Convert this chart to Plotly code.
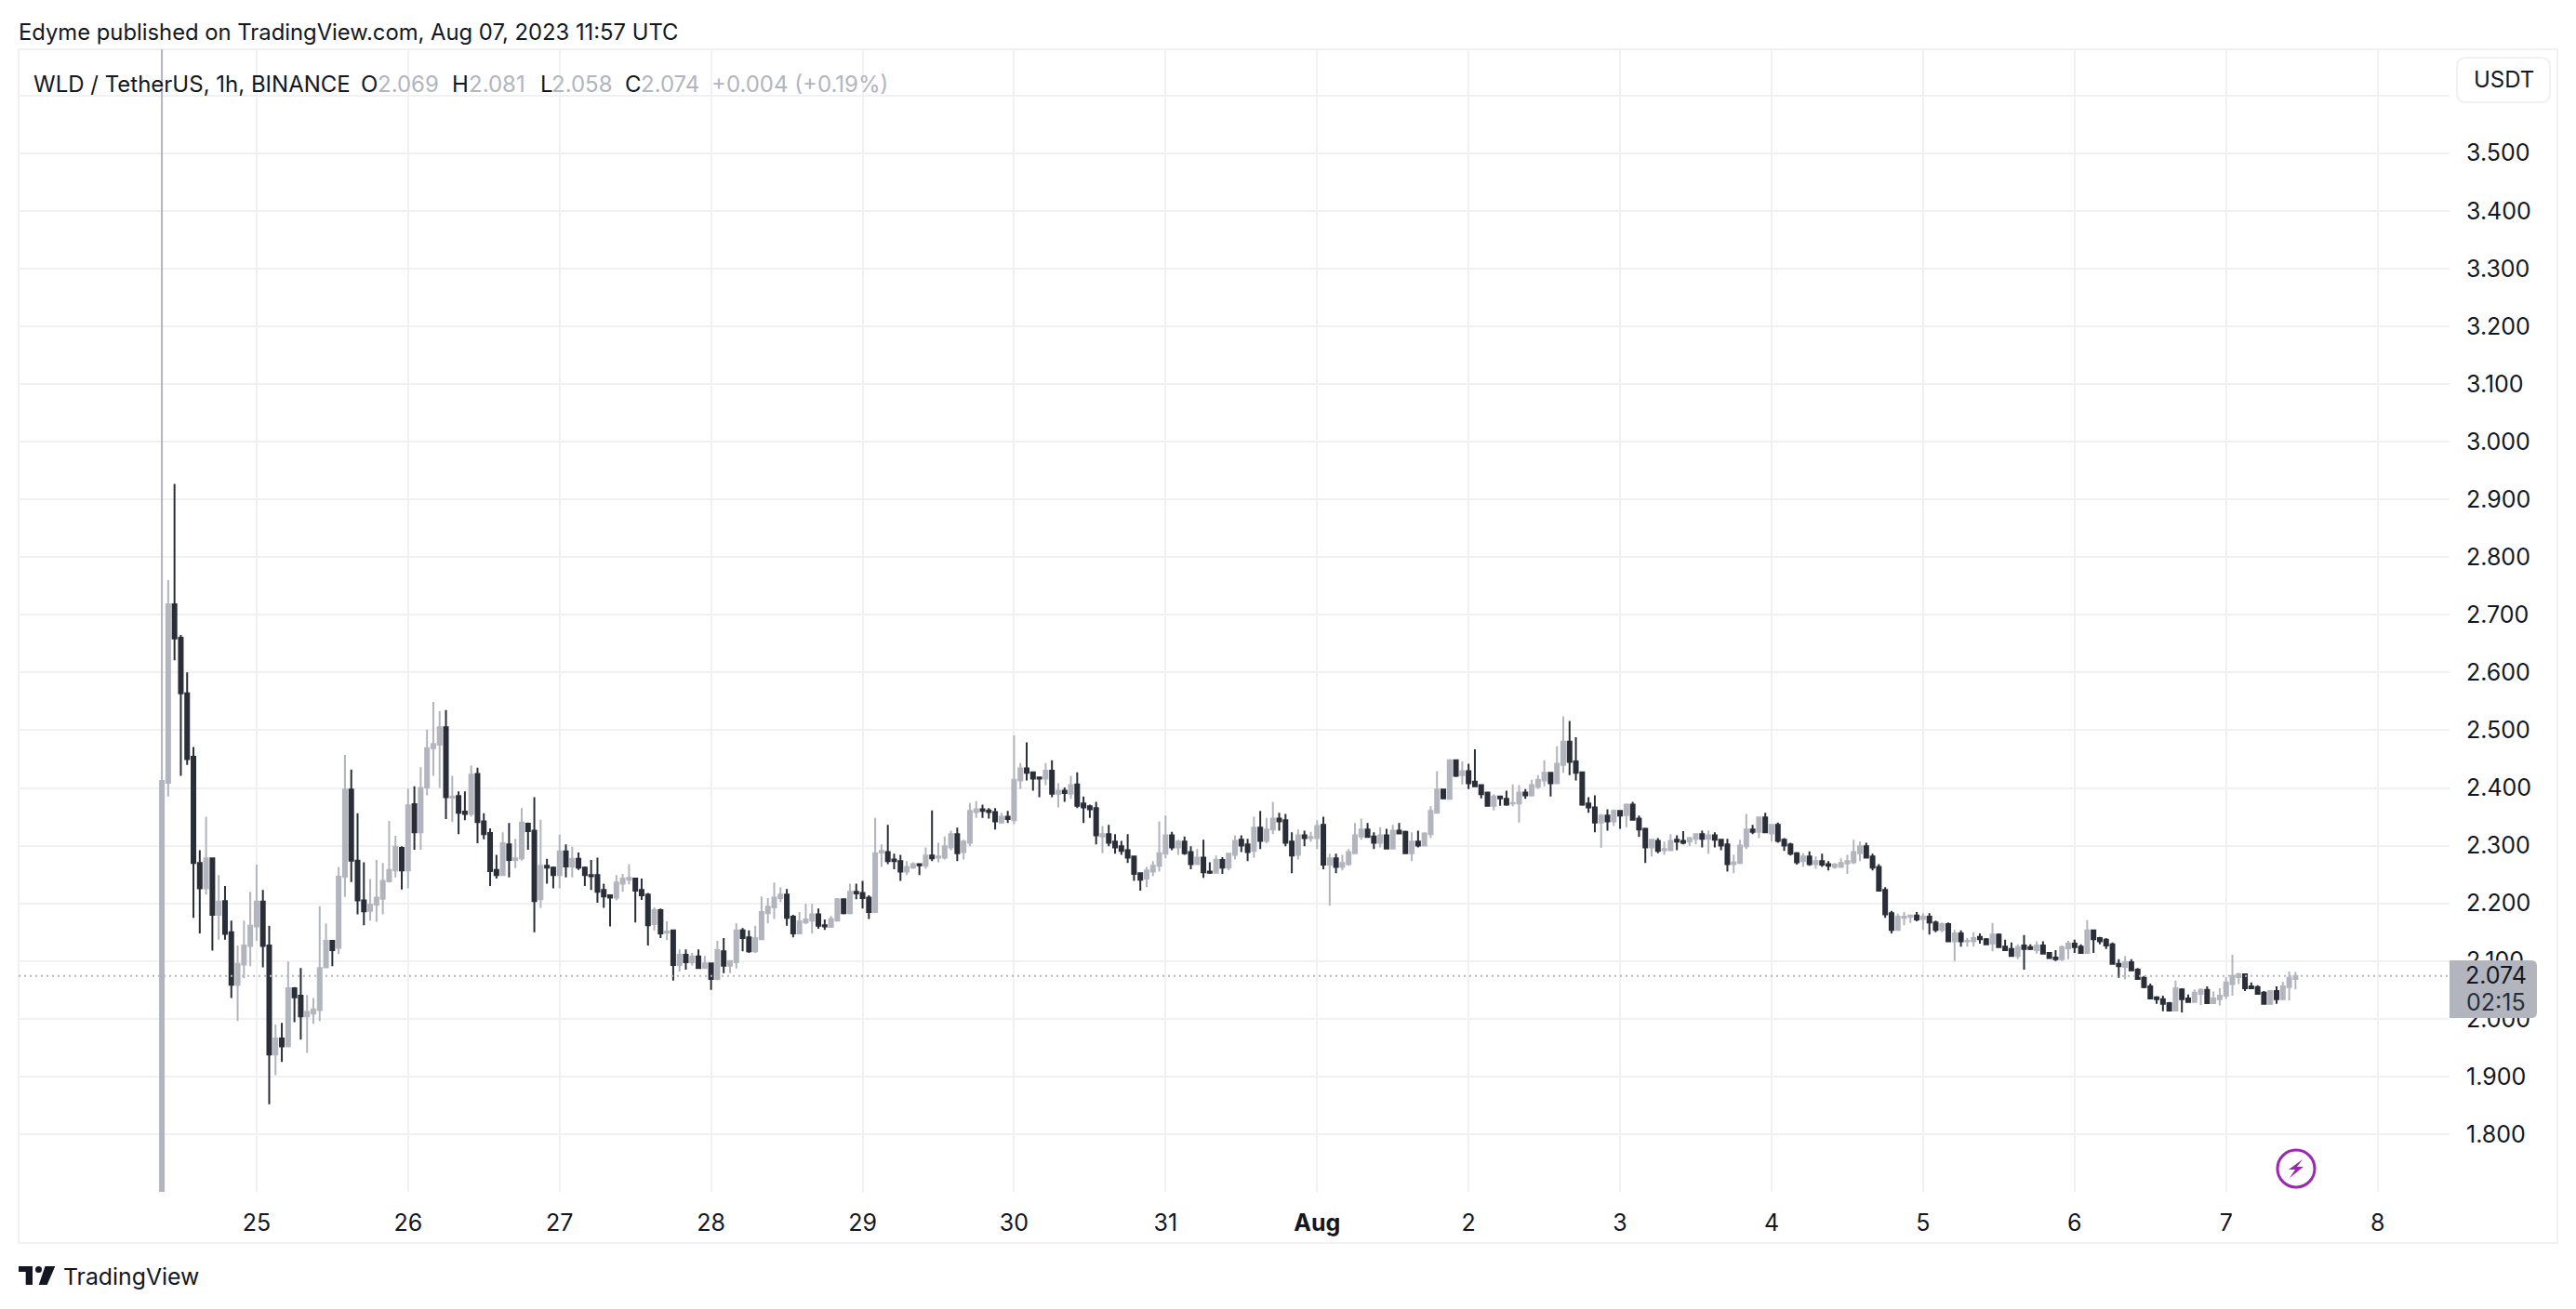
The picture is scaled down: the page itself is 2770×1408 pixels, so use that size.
import pandas as pd
import plotly.graph_objects as go

# WLD/USDT 1h candles, 2023-07-24 09:00 to 2023-08-07 11:00 UTC
times = pd.date_range("2023-07-24 09:00", periods=339, freq="h")

opens = [
    1.600, 2.409, 2.718, 2.660, 2.564, 2.454, 2.270, 2.226, 2.278, 2.180,
    2.204, 2.150, 2.059, 2.094, 2.126, 2.160, 2.203, 2.127, 1.938, 1.966,
    1.952, 2.053, 2.040, 2.004, 2.009, 2.015, 2.089, 2.135, 2.123, 2.246,
    2.397, 2.274, 2.205, 2.187, 2.198, 2.208, 2.238, 2.257, 2.296, 2.257,
    2.372, 2.323, 2.401, 2.469, 2.475, 2.505, 2.383, 2.386, 2.359, 2.355,
    2.424, 2.342, 2.322, 2.258, 2.249, 2.302, 2.275, 2.278, 2.338, 2.326,
    2.207, 2.265, 2.262, 2.249, 2.290, 2.264, 2.277, 2.262, 2.249, 2.249,
    2.223, 2.214, 2.210, 2.234, 2.241, 2.243, 2.223, 2.215, 2.164, 2.188,
    2.149, 2.153, 2.093, 2.111, 2.098, 2.108, 2.088, 2.096, 2.069, 2.117,
    2.092, 2.098, 2.153, 2.141, 2.117, 2.138, 2.183, 2.193, 2.209, 2.215,
    2.177, 2.148, 2.167, 2.170, 2.181, 2.162, 2.159, 2.170, 2.207, 2.183,
    2.220, 2.218, 2.210, 2.185, 2.288, 2.289, 2.276, 2.273, 2.255, 2.262,
    2.268, 2.265, 2.283, 2.279, 2.279, 2.297, 2.320, 2.289, 2.305, 2.358,
    2.363, 2.361, 2.358, 2.340, 2.350, 2.344, 2.413, 2.434, 2.427, 2.418,
    2.416, 2.430, 2.390, 2.395, 2.390, 2.406, 2.373, 2.368, 2.365, 2.316,
    2.320, 2.307, 2.299, 2.292, 2.281, 2.252, 2.243, 2.255, 2.265, 2.286,
    2.318, 2.297, 2.307, 2.289, 2.268, 2.279, 2.255, 2.253, 2.275, 2.262,
    2.284, 2.310, 2.302, 2.291, 2.331, 2.308, 2.328, 2.347, 2.344, 2.307,
    2.284, 2.318, 2.313, 2.313, 2.336, 2.267, 2.278, 2.263, 2.268, 2.287,
    2.316, 2.328, 2.316, 2.305, 2.318, 2.295, 2.326, 2.324, 2.287, 2.307,
    2.300, 2.320, 2.357, 2.397, 2.381, 2.448, 2.422, 2.429, 2.411, 2.405,
    2.392, 2.369, 2.385, 2.381, 2.373, 2.373, 2.392, 2.387, 2.402, 2.413,
    2.426, 2.408, 2.440, 2.480, 2.446, 2.427, 2.373, 2.366, 2.340, 2.352,
    2.342, 2.360, 2.353, 2.371, 2.347, 2.329, 2.297, 2.308, 2.292, 2.292,
    2.310, 2.308, 2.307, 2.312, 2.320, 2.312, 2.318, 2.310, 2.302, 2.268,
    2.270, 2.299, 2.328, 2.324, 2.349, 2.321, 2.336, 2.310, 2.302, 2.287,
    2.273, 2.281, 2.268, 2.273, 2.268, 2.263, 2.263, 2.269, 2.271, 2.287,
    2.299, 2.281, 2.263, 2.223, 2.183, 2.154, 2.175, 2.177, 2.179, 2.173,
    2.177, 2.167, 2.154, 2.164, 2.134, 2.148, 2.134, 2.134, 2.142, 2.138,
    2.130, 2.146, 2.125, 2.121, 2.109, 2.127, 2.124, 2.119, 2.127, 2.114,
    2.106, 2.103, 2.122, 2.130, 2.125, 2.114, 2.153, 2.140, 2.137, 2.129,
    2.095, 2.090, 2.098, 2.085, 2.071, 2.056, 2.037, 2.034, 2.027, 2.014,
    2.051, 2.035, 2.029, 2.043, 2.050, 2.027, 2.034, 2.040, 2.060, 2.072,
    2.077, 2.056, 2.055, 2.045, 2.026, 2.048, 2.034, 2.055, 2.069,
]
highs = [
    3.800, 2.760, 2.927, 2.665, 2.600, 2.471, 2.292, 2.350, 2.278, 2.249,
    2.230, 2.170, 2.127, 2.170, 2.220, 2.267, 2.223, 2.161, 1.990, 1.993,
    2.099, 2.055, 2.088, 2.041, 2.036, 2.195, 2.165, 2.135, 2.263, 2.457,
    2.432, 2.356, 2.271, 2.242, 2.275, 2.270, 2.343, 2.317, 2.299, 2.399,
    2.403, 2.436, 2.501, 2.549, 2.533, 2.535, 2.421, 2.394, 2.394, 2.439,
    2.435, 2.356, 2.330, 2.284, 2.323, 2.339, 2.312, 2.365, 2.340, 2.384,
    2.345, 2.277, 2.264, 2.319, 2.302, 2.298, 2.288, 2.264, 2.275, 2.279,
    2.234, 2.215, 2.249, 2.251, 2.268, 2.244, 2.243, 2.218, 2.193, 2.191,
    2.169, 2.154, 2.120, 2.120, 2.114, 2.120, 2.109, 2.096, 2.135, 2.140,
    2.101, 2.165, 2.157, 2.153, 2.161, 2.212, 2.209, 2.236, 2.228, 2.225,
    2.180, 2.185, 2.199, 2.199, 2.191, 2.172, 2.178, 2.209, 2.207, 2.234,
    2.234, 2.239, 2.214, 2.348, 2.302, 2.336, 2.286, 2.284, 2.273, 2.271,
    2.268, 2.297, 2.361, 2.305, 2.316, 2.326, 2.331, 2.310, 2.374, 2.377,
    2.371, 2.365, 2.365, 2.357, 2.360, 2.491, 2.443, 2.479, 2.427, 2.419,
    2.443, 2.448, 2.408, 2.401, 2.421, 2.427, 2.385, 2.371, 2.376, 2.334,
    2.336, 2.320, 2.308, 2.320, 2.281, 2.254, 2.263, 2.273, 2.342, 2.352,
    2.324, 2.310, 2.316, 2.299, 2.294, 2.310, 2.271, 2.283, 2.280, 2.287,
    2.318, 2.318, 2.312, 2.350, 2.360, 2.348, 2.376, 2.357, 2.355, 2.323,
    2.328, 2.326, 2.324, 2.344, 2.350, 2.286, 2.286, 2.284, 2.294, 2.339,
    2.347, 2.339, 2.323, 2.332, 2.329, 2.336, 2.339, 2.326, 2.323, 2.326,
    2.323, 2.368, 2.429, 2.398, 2.450, 2.448, 2.446, 2.442, 2.467, 2.406,
    2.393, 2.389, 2.385, 2.395, 2.406, 2.405, 2.398, 2.414, 2.422, 2.448,
    2.427, 2.472, 2.524, 2.516, 2.488, 2.427, 2.384, 2.387, 2.355, 2.363,
    2.363, 2.361, 2.373, 2.376, 2.352, 2.331, 2.310, 2.313, 2.307, 2.320,
    2.318, 2.325, 2.315, 2.320, 2.326, 2.326, 2.323, 2.310, 2.312, 2.284,
    2.310, 2.355, 2.336, 2.350, 2.357, 2.336, 2.340, 2.313, 2.305, 2.289,
    2.287, 2.290, 2.281, 2.286, 2.273, 2.270, 2.278, 2.284, 2.310, 2.307,
    2.305, 2.286, 2.268, 2.228, 2.187, 2.182, 2.185, 2.180, 2.185, 2.183,
    2.183, 2.170, 2.167, 2.167, 2.154, 2.153, 2.140, 2.150, 2.148, 2.140,
    2.166, 2.148, 2.137, 2.132, 2.129, 2.145, 2.129, 2.134, 2.134, 2.114,
    2.119, 2.127, 2.135, 2.137, 2.129, 2.171, 2.154, 2.142, 2.140, 2.132,
    2.103, 2.109, 2.103, 2.088, 2.074, 2.061, 2.039, 2.040, 2.029, 2.066,
    2.053, 2.042, 2.051, 2.053, 2.056, 2.047, 2.053, 2.072, 2.111, 2.080,
    2.077, 2.063, 2.058, 2.048, 2.048, 2.056, 2.064, 2.082, 2.081,
]
lows = [
    1.600, 2.385, 2.621, 2.421, 2.440, 2.175, 2.148, 2.215, 2.118, 2.137,
    2.137, 2.036, 1.996, 2.070, 2.091, 2.135, 2.089, 1.852, 1.902, 1.925,
    1.952, 1.994, 1.964, 1.941, 1.991, 1.996, 2.089, 2.091, 2.112, 2.211,
    2.237, 2.181, 2.162, 2.170, 2.168, 2.181, 2.236, 2.245, 2.224, 2.226,
    2.293, 2.293, 2.387, 2.421, 2.400, 2.346, 2.341, 2.320, 2.344, 2.350,
    2.304, 2.311, 2.230, 2.243, 2.249, 2.245, 2.261, 2.274, 2.293, 2.150,
    2.192, 2.234, 2.226, 2.226, 2.245, 2.245, 2.258, 2.230, 2.223, 2.201,
    2.192, 2.160, 2.205, 2.220, 2.233, 2.167, 2.206, 2.127, 2.153, 2.140,
    2.136, 2.066, 2.082, 2.085, 2.092, 2.087, 2.088, 2.050, 2.067, 2.079,
    2.079, 2.087, 2.117, 2.114, 2.114, 2.138, 2.165, 2.173, 2.202, 2.161,
    2.141, 2.148, 2.164, 2.148, 2.156, 2.154, 2.159, 2.170, 2.181, 2.181,
    2.207, 2.191, 2.173, 2.185, 2.263, 2.268, 2.259, 2.239, 2.249, 2.260,
    2.249, 2.260, 2.273, 2.271, 2.276, 2.292, 2.273, 2.276, 2.299, 2.348,
    2.348, 2.347, 2.328, 2.340, 2.339, 2.337, 2.398, 2.413, 2.395, 2.384,
    2.405, 2.384, 2.366, 2.376, 2.381, 2.365, 2.339, 2.348, 2.302, 2.287,
    2.299, 2.286, 2.284, 2.270, 2.239, 2.222, 2.228, 2.247, 2.255, 2.278,
    2.292, 2.284, 2.284, 2.259, 2.268, 2.244, 2.251, 2.252, 2.251, 2.257,
    2.276, 2.289, 2.273, 2.279, 2.294, 2.304, 2.320, 2.326, 2.299, 2.252,
    2.276, 2.299, 2.307, 2.294, 2.259, 2.196, 2.252, 2.257, 2.265, 2.287,
    2.310, 2.315, 2.294, 2.297, 2.294, 2.294, 2.320, 2.286, 2.273, 2.297,
    2.300, 2.313, 2.357, 2.381, 2.381, 2.419, 2.406, 2.398, 2.403, 2.382,
    2.369, 2.361, 2.369, 2.369, 2.368, 2.340, 2.381, 2.385, 2.398, 2.403,
    2.385, 2.408, 2.426, 2.422, 2.413, 2.369, 2.357, 2.323, 2.296, 2.326,
    2.334, 2.329, 2.332, 2.344, 2.315, 2.270, 2.281, 2.287, 2.284, 2.292,
    2.292, 2.302, 2.299, 2.302, 2.297, 2.286, 2.297, 2.292, 2.255, 2.252,
    2.268, 2.294, 2.320, 2.313, 2.323, 2.307, 2.305, 2.291, 2.283, 2.267,
    2.263, 2.265, 2.260, 2.263, 2.257, 2.260, 2.263, 2.251, 2.268, 2.273,
    2.278, 2.257, 2.222, 2.175, 2.148, 2.153, 2.162, 2.166, 2.169, 2.154,
    2.146, 2.150, 2.150, 2.146, 2.100, 2.125, 2.125, 2.125, 2.130, 2.132,
    2.117, 2.130, 2.121, 2.111, 2.103, 2.085, 2.119, 2.113, 2.114, 2.113,
    2.100, 2.100, 2.103, 2.114, 2.121, 2.113, 2.114, 2.129, 2.121, 2.127,
    2.071, 2.068, 2.090, 2.076, 2.053, 2.050, 2.026, 2.013, 2.014, 2.014,
    2.011, 2.029, 2.029, 2.024, 2.034, 2.026, 2.023, 2.034, 2.040, 2.060,
    2.048, 2.053, 2.048, 2.040, 2.024, 2.026, 2.034, 2.032, 2.051, 2.058,
]
closes = [
    2.412, 2.718, 2.659, 2.564, 2.450, 2.270, 2.226, 2.278, 2.180, 2.203,
    2.147, 2.059, 2.095, 2.127, 2.161, 2.203, 2.126, 1.938, 1.966, 1.952,
    2.053, 2.037, 2.004, 2.012, 2.016, 2.088, 2.135, 2.119, 2.246, 2.397,
    2.274, 2.205, 2.186, 2.198, 2.210, 2.239, 2.258, 2.298, 2.257, 2.370,
    2.323, 2.400, 2.469, 2.476, 2.505, 2.384, 2.385, 2.357, 2.355, 2.423,
    2.341, 2.320, 2.256, 2.249, 2.304, 2.275, 2.278, 2.340, 2.325, 2.204,
    2.265, 2.262, 2.249, 2.290, 2.264, 2.277, 2.262, 2.249, 2.247, 2.220,
    2.212, 2.210, 2.236, 2.243, 2.244, 2.222, 2.214, 2.162, 2.188, 2.148,
    2.151, 2.093, 2.111, 2.098, 2.108, 2.088, 2.096, 2.069, 2.119, 2.092,
    2.100, 2.153, 2.140, 2.117, 2.140, 2.185, 2.194, 2.210, 2.215, 2.175,
    2.148, 2.169, 2.172, 2.181, 2.161, 2.160, 2.173, 2.207, 2.183, 2.220,
    2.217, 2.209, 2.185, 2.287, 2.291, 2.273, 2.273, 2.255, 2.263, 2.268,
    2.266, 2.283, 2.278, 2.281, 2.299, 2.320, 2.287, 2.307, 2.360, 2.363,
    2.360, 2.358, 2.342, 2.350, 2.346, 2.414, 2.434, 2.426, 2.416, 2.416,
    2.430, 2.390, 2.395, 2.391, 2.405, 2.369, 2.366, 2.363, 2.318, 2.320,
    2.305, 2.297, 2.291, 2.279, 2.251, 2.241, 2.257, 2.265, 2.287, 2.318,
    2.297, 2.307, 2.287, 2.268, 2.279, 2.254, 2.253, 2.275, 2.262, 2.286,
    2.308, 2.300, 2.289, 2.331, 2.308, 2.328, 2.347, 2.342, 2.305, 2.283,
    2.318, 2.313, 2.315, 2.334, 2.267, 2.278, 2.263, 2.270, 2.289, 2.318,
    2.328, 2.315, 2.305, 2.318, 2.295, 2.326, 2.321, 2.287, 2.307, 2.300,
    2.321, 2.360, 2.397, 2.382, 2.448, 2.421, 2.429, 2.408, 2.403, 2.389,
    2.369, 2.385, 2.382, 2.371, 2.374, 2.392, 2.387, 2.405, 2.414, 2.426,
    2.408, 2.442, 2.480, 2.445, 2.426, 2.371, 2.366, 2.340, 2.352, 2.342,
    2.360, 2.352, 2.371, 2.345, 2.328, 2.297, 2.310, 2.291, 2.294, 2.308,
    2.307, 2.305, 2.313, 2.320, 2.312, 2.318, 2.310, 2.300, 2.268, 2.271,
    2.300, 2.328, 2.324, 2.349, 2.323, 2.336, 2.308, 2.300, 2.286, 2.271,
    2.281, 2.268, 2.273, 2.267, 2.265, 2.267, 2.270, 2.273, 2.289, 2.299,
    2.279, 2.262, 2.222, 2.181, 2.154, 2.177, 2.177, 2.179, 2.172, 2.177,
    2.167, 2.154, 2.164, 2.134, 2.148, 2.134, 2.135, 2.140, 2.138, 2.129,
    2.146, 2.124, 2.119, 2.109, 2.124, 2.121, 2.121, 2.127, 2.113, 2.105,
    2.103, 2.124, 2.130, 2.124, 2.114, 2.153, 2.138, 2.134, 2.127, 2.095,
    2.091, 2.098, 2.084, 2.069, 2.055, 2.035, 2.034, 2.026, 2.014, 2.053,
    2.034, 2.029, 2.045, 2.050, 2.027, 2.035, 2.040, 2.063, 2.074, 2.077,
    2.053, 2.053, 2.043, 2.026, 2.048, 2.034, 2.056, 2.071, 2.074,
]

price_ticks = [1.8, 1.9, 2.0, 2.1, 2.2, 2.3, 2.4, 2.5, 2.6, 2.7, 2.8, 2.9, 3.0, 3.1, 3.2, 3.3, 3.4, 3.5, 3.6]
price_labels = ["1.800", "1.900", "2.000", "2.100", "2.200", "2.300", "2.400", "2.500", "2.600", "2.700",
                "2.800", "2.900", "3.000", "3.100", "3.200", "3.300", "3.400", "3.500", ""]
day_ticks = pd.date_range("2023-07-25", "2023-08-08", freq="D")
day_labels = ["25", "26", "27", "28", "29", "30", "31", "<b>Aug</b>", "2", "3", "4", "5", "6", "7", "8"]

# the page body keeps its 8px margin, so the figure is smaller than the window
PAD = 8
W, H = 2770 - 2 * PAD, 1408 - 2 * PAD
UP = "#b2b5be"
DOWN = "#2a2e39"
GRID = "#f1f1f5"
INK = "#131722"
FONT = "Inter"


def px(x):
    return (x - PAD) / W


def py(y):
    return 1 - (y - PAD) / H


def poly(points):
    return "M" + " L".join(f"{px(x):.5f},{py(y):.5f}" for x, y in points) + " Z"


def label(x, y, text, color=INK, size=24, anchor="left"):
    return dict(x=px(x), y=py(y), xref="paper", yref="paper", text=text, showarrow=False,
                xanchor=anchor, yanchor="middle", font=dict(family=FONT, size=size, color=color))


trace = go.Candlestick(x=times, open=opens, high=highs, low=lows, close=closes, whiskerwidth=0,
                       increasing=dict(line=dict(color=UP, width=2), fillcolor=UP),
                       decreasing=dict(line=dict(color=DOWN, width=2), fillcolor=DOWN))

shapes = [
    # chart frame
    dict(type="rect", xref="paper", yref="paper", x0=px(20), x1=px(2750), y0=py(53), y1=py(1337),
         line=dict(color=GRID, width=2), layer="below"),
    # last price line
    dict(type="line", xref="paper", yref="y", x0=px(20), x1=px(2634), y0=closes[-1], y1=closes[-1],
         line=dict(color=UP, width=2, dash="2px,4px"), layer="above"),
    # last price tag
    dict(type="path", xref="paper", yref="paper", fillcolor=UP, line=dict(width=0), layer="above",
         path=f"M{px(2634)},{py(1033)} L{px(2722)},{py(1033)} Q{px(2728)},{py(1033)} {px(2728)},{py(1039)} "
              f"L{px(2728)},{py(1089)} Q{px(2728)},{py(1095)} {px(2722)},{py(1095)} L{px(2634)},{py(1095)} Z"),
    # currency button
    dict(type="path", xref="paper", yref="paper", fillcolor="white", line=dict(color=GRID, width=2), layer="above",
         path=f"M{px(2652)},{py(62)} L{px(2732)},{py(62)} Q{px(2742)},{py(62)} {px(2742)},{py(72)} "
              f"L{px(2742)},{py(100)} Q{px(2742)},{py(110)} {px(2732)},{py(110)} L{px(2652)},{py(110)} "
              f"Q{px(2642)},{py(110)} {px(2642)},{py(100)} L{px(2642)},{py(72)} Q{px(2642)},{py(62)} {px(2652)},{py(62)} Z"),
    # session icon
    dict(type="circle", xref="paper", yref="paper", x0=px(2449), x1=px(2489), y0=py(1277), y1=py(1237),
         line=dict(color="#9c27b0", width=3), layer="above"),
    dict(type="path", xref="paper", yref="paper", fillcolor="#9c27b0", line=dict(width=0), layer="above",
         path=poly([(2476, 1247), (2461, 1258), (2468, 1258), (2462, 1267), (2477, 1255), (2470, 1255)])),
    # logo
    dict(type="path", xref="paper", yref="paper", fillcolor=INK, line=dict(width=0), layer="above",
         path=poly([(20, 1362), (35, 1362), (35, 1382), (27.7, 1382), (27.7, 1368), (20, 1368)])),
    dict(type="circle", xref="paper", yref="paper", x0=px(38), x1=px(45), y0=py(1369), y1=py(1362),
         fillcolor=INK, line=dict(width=0), layer="above"),
    dict(type="path", xref="paper", yref="paper", fillcolor=INK, line=dict(width=0), layer="above",
         path=poly([(48.5, 1362), (59.3, 1362), (50.7, 1382), (41.7, 1382)])),
]

annotations = [
    label(18, 35, "Edyme published on TradingView.com, Aug 07, 2023 11:57 UTC", size=23.8),
    label(34, 90, "WLD / TetherUS, 1h, BINANCE"),
    label(386, 90, "O"), label(404, 90, "2.069", UP),
    label(484, 90, "H"), label(502, 90, "2.081", UP),
    label(579, 90, "L"), label(591, 90, "2.058", UP),
    label(670, 90, "C"), label(687, 90, "2.074", UP),
    label(763, 90, "+0.004 (+0.19%)", UP),
    label(2692, 86, "USDT", anchor="center"),
    label(2684, 1049, f"{closes[-1]:.3f}", size=25, anchor="center"),
    label(2684, 1078, "02:15", "#2a2e39", size=25, anchor="center"),
    label(66, 1373, "TradingView", size=24.8),
]

layout = go.Layout(
    width=W, height=H, margin=dict(l=0, r=0, t=0, b=0), paper_bgcolor="white", plot_bgcolor="white",
    showlegend=False, boxgap=0.41, boxgroupgap=0, font=dict(family=FONT, color=INK),
    xaxis=dict(domain=[px(20), px(2634)], range=["2023-07-23 10:18", "2023-08-08 11:24"], type="date",
               rangeslider=dict(visible=False), tickmode="array", tickvals=day_ticks, ticktext=day_labels,
               showgrid=True, gridcolor=GRID, gridwidth=2, zeroline=False, showline=False, ticks="",
               tickfont=dict(family=FONT, size=25, color=INK), ticklabelstandoff=16, fixedrange=True),
    yaxis=dict(domain=[py(1282), py(53)], range=[1.700, 3.680], side="right", tickmode="array",
               tickvals=price_ticks, ticktext=price_labels, showgrid=True, gridcolor=GRID, gridwidth=2,
               zeroline=False, showline=False, ticks="", tickfont=dict(family=FONT, size=25, color=INK),
               ticklabelstandoff=17, fixedrange=True),
    shapes=shapes, annotations=annotations,
)

fig = go.Figure(data=[trace], layout=layout)
fig.write_html("out.html")
